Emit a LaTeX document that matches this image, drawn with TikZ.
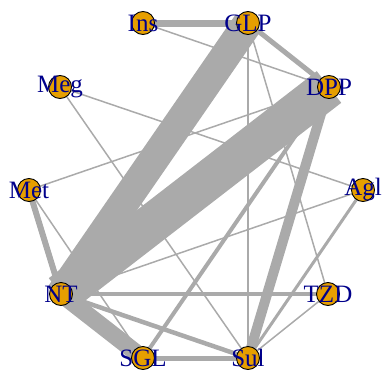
\documentclass[tikz,border=0pt]{standalone}
\usepackage{fontspec}
\setmainfont{Liberation Serif}
\usetikzlibrary{backgrounds}
\definecolor{vfill}{RGB}{230,159,0}
\definecolor{edgegray}{RGB}{170,170,170}
\definecolor{vblue}{RGB}{0,0,139}
\tikzset{
  vertex/.style={circle,draw=black,line width=0.9pt,fill=vfill,minimum size=23pt,inner sep=0pt},
  vname/.style={text=vblue,font=\fontsize{25}{25}\selectfont,inner sep=0pt},
  link/.style={draw=edgegray,line cap=butt},
}
\begin{document}
\begin{tikzpicture}[x=1pt,y=-1pt]
  \useasboundingbox (0,0) rectangle (382,372);
  % vertices on the circle
  \node[vertex,label={[vname]center:Ins}] (ins) at (143,23) {};
  \node[vertex,label={[vname]center:GLP}] (glp) at (248,23) {};
  \node[vertex,label={[vname]center:DPP}] (dpp) at (329,87) {};
  \node[vertex,label={[vname]center:Agl}] (agl) at (363,190) {};
  \node[vertex,label={[vname]center:TZD}] (tzd) at (328,294) {};
  \node[vertex,label={[vname]center:Sul}] (sul) at (248,358) {};
  \node[vertex,label={[vname]center:SGL}] (sgl) at (143,358) {};
  \node[vertex,label={[vname]center:NT}] (nt) at (61,294) {};
  \node[vertex,label={[vname]center:Met}] (met) at (29,190) {};
  \node[vertex,label={[vname]center:Meg}] (meg) at (60,87) {};
  % edges, width = number of trials
  \begin{scope}[on background layer]
    \foreach \a/\b in {ins/dpp,meg/agl,meg/sul,met/dpp,met/sgl,nt/agl,glp/sul,glp/tzd,tzd/sul}
      \draw[link,line width=1.5pt] (\a.center) -- (\b.center);
    \draw[link,line width=40pt] (nt.center) -- (dpp.center);
    \draw[link,line width=30pt] (nt.center) -- (glp.center);
    \draw[link,line width=17pt] (nt.center) -- (sgl.center);
    \draw[link,line width=10pt] (dpp.center) -- (sul.center);
    \draw[link,line width=7pt] (ins.center) -- (glp.center);
    \draw[link,line width=6pt] (met.center) -- (nt.center);
    \draw[link,line width=5pt] (glp.center) -- (dpp.center);
    \draw[link,line width=5pt] (sgl.center) -- (sul.center);
    \draw[link,line width=4.5pt] (nt.center) -- (sul.center);
    \draw[link,line width=4pt] (dpp.center) -- (sgl.center);
    \draw[link,line width=3.5pt] (nt.center) -- (tzd.center);
    \draw[link,line width=3pt] (agl.center) -- (sul.center);
  \end{scope}
\end{tikzpicture}
\end{document}
